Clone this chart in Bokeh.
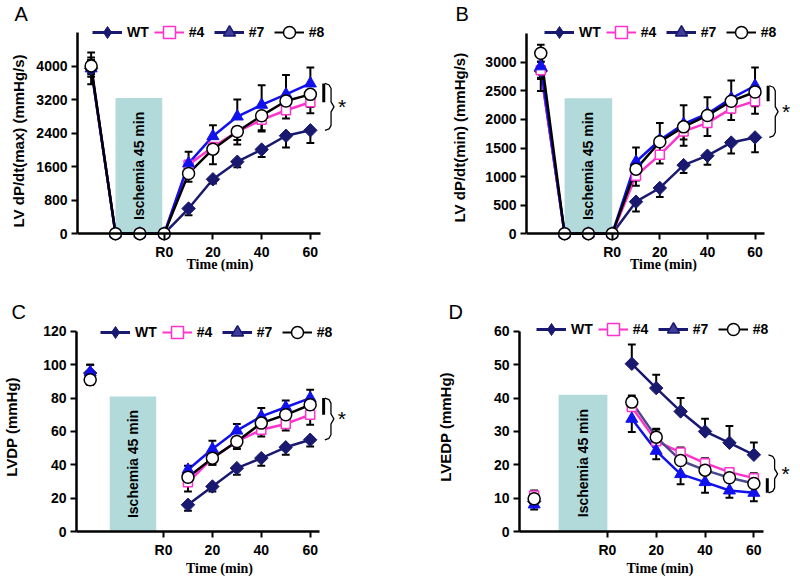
import numpy as np
from bokeh.plotting import figure
from bokeh.layouts import column, row
from bokeh.models import FixedTicker, Legend, LegendItem, Label, Range1d, Title
from bokeh.core.properties import value
from bokeh.embed import file_html
from bokeh.resources import INLINE

series = ["WT", "#4", "#7", "#8"]

# ---------------- Panel A : LV dP/dt(max) ----------------
a_time = [-30, -20, -10, 0, 10, 20, 30, 40, 50, 60]
a_wt = [3950, 0, 0, 0, 600, 1300, 1720, 2010, 2340, 2470]
a_n4 = [4000, 0, 0, 0, 1650, 2070, 2440, 2720, 2950, 3140]
a_n7 = [3950, 0, 0, 0, 1680, 2330, 2800, 3080, 3330, 3590]
a_n8 = [4010, 0, 0, 0, 1440, 2020, 2440, 2820, 3170, 3330]
a_wt_err = [200, 0, 0, 0, 160, 100, 130, 180, 280, 300]
a_n4_err = [150, 0, 0, 0, 150, 150, 200, 250, 200, 260]
a_n7_err = [380, 0, 0, 0, 280, 260, 410, 470, 460, 380]
a_n8_err = [200, 0, 0, 0, 200, 360, 310, 380, 250, 300]
a_yticks = [0, 800, 1600, 2400, 3200, 4000]
a_ymax = 4800

# ---------------- Panel B : LV dP/dt(min) ----------------
b_time = [-30, -20, -10, 0, 10, 20, 30, 40, 50, 60]
b_wt = [2850, 0, 0, 0, 560, 800, 1200, 1365, 1595, 1685]
b_n4 = [2860, 0, 0, 0, 1015, 1380, 1790, 1940, 2190, 2320]
b_n7 = [2930, 0, 0, 0, 1260, 1640, 1920, 2100, 2370, 2590]
b_n8 = [3160, 0, 0, 0, 1130, 1610, 1870, 2070, 2320, 2480]
b_wt_err = [350, 0, 0, 0, 170, 160, 140, 160, 190, 260]
b_n4_err = [150, 0, 0, 0, 175, 150, 250, 230, 200, 220]
b_n7_err = [200, 0, 0, 0, 250, 300, 330, 290, 310, 320]
b_n8_err = [150, 0, 0, 0, 200, 200, 220, 200, 200, 250]
b_yticks = [0, 500, 1000, 1500, 2000, 2500, 3000]
b_ymax = 3500

# ---------------- Panel C : LVDP ----------------
c_time = [-30, 10, 20, 30, 40, 50, 60]
c_wt = [95, 16, 27, 38, 44, 50.5, 55]
c_n4 = [91, 29.5, 44, 54, 61, 64.5, 70]
c_n7 = [95.5, 37, 49.5, 60.5, 69, 74.5, 80]
c_n8 = [91, 32.5, 44, 54, 65, 70, 76]
c_wt_err = [5, 3.5, 3, 4, 4.5, 4.5, 4]
c_n4_err = [3, 5.5, 4, 4.5, 4, 4, 6]
c_n7_err = [4.5, 2.5, 5, 4, 5, 4, 5]
c_n8_err = [3, 4, 4, 4, 4, 4, 4]
c_yticks = [0, 20, 40, 60, 80, 100, 120]
c_ymax = 120

# ---------------- Panel D : LVEDP ----------------
d_time = [-30, 10, 20, 30, 40, 50, 60]
d_wt = [9, 50.3, 43, 36, 30, 26.6, 23]
d_n4 = [10.8, 37.3, 27.1, 23.7, 20.5, 17.8, 16]
d_n7 = [8.1, 33.8, 24.2, 17.2, 14.8, 12.3, 11.6]
d_n8 = [9.8, 38.8, 28.3, 21.3, 18.4, 16.1, 14.4]
d_wt_err = [1.5, 5.8, 4, 4, 3.8, 5, 3.7]
d_n4_err = [1.5, 3, 3.5, 1.5, 1.5, 1.2, 1.5]
d_n7_err = [1.5, 4, 2.5, 3, 3.2, 2.2, 2.5]
d_n8_err = [1.5, 2, 2.5, 1.5, 1.5, 1.2, 1.5]
d_yticks = [0, 10, 20, 30, 40, 50, 60]
d_ymax = 60

# ischemia boxes (start, end in min; top in y units) for A, B, C, D
isch_start = [-20, -20, -22, -20]
isch_end = [-0.8, 0, -3, 0]
isch_top = [3240, 2370, 81, 41]
isch_text = "Ischemia 45 min"

x_ticks = [0, 20, 40, 60]
x_tick_labels = {0: "R0"}
x_label = "Time (min)"

NAVY = "#191970"
MAG = "#FF33CC"
BLUE = "#1111EE"
SLATE = "#3E3E9A"
BOX = "#B2DADB"
FONT = "Liberation Sans"
SERIF = "Liberation Serif"


def style_tick_axis(ax):
    ax.axis_line_width = 2.5
    ax.axis_line_color = "black"
    ax.major_tick_line_width = 2
    ax.major_tick_line_color = "black"
    ax.major_tick_in = 0
    ax.major_tick_out = 6
    ax.minor_tick_line_color = None
    ax.major_label_text_font = FONT
    ax.major_label_text_font_style = "bold"
    ax.major_label_text_font_size = "14px"
    ax.major_label_text_color = "black"
    ax.major_label_standoff = 4
    ax.axis_label_text_color = "black"


def make_panel(letter, ylabel, t, vals, errs, dirs, connect, yticks, ymax,
               isch_i, width, height, mb_l, mb_r, mb_t, mb_b, xleft, xpx,
               ypx, eps, ylab, leg_dx, leg_cy, letter_dx, n8_line):
    fw = width - mb_l - mb_r
    fh = height - mb_t - mb_b
    y0 = -eps / ypx
    p = figure(width=width, height=height, output_backend="svg",
               toolbar_location=None,
               x_range=Range1d(xleft, xleft + fw / xpx),
               y_range=Range1d(y0, y0 + fh / ypx),
               min_border_left=mb_l, min_border_right=mb_r,
               min_border_top=mb_t, min_border_bottom=mb_b)
    p.outline_line_color = None
    p.xgrid.grid_line_color = None
    p.ygrid.grid_line_color = None
    p.background_fill_color = "white"

    # panel letter as title
    p.title.text = letter
    p.title.align = "left"
    p.title.offset = letter_dx
    p.title.standoff = 0
    p.title.text_font = FONT
    p.title.text_font_style = "normal"
    p.title.text_font_size = "20px"
    p.title.text_color = "black"

    xa = p.xaxis[0]
    ya = p.yaxis[0]
    style_tick_axis(xa)
    style_tick_axis(ya)
    xa.ticker = FixedTicker(ticks=x_ticks)
    xa.major_label_overrides = x_tick_labels
    xa.bounds = (xleft, 64)
    ya.ticker = FixedTicker(ticks=yticks)
    ya.bounds = (0, ymax)

    if eps > 0:
        # x axis drawn at y = 0 (frame extends below it, so markers on 0,
        # tick labels and the axis title stay visible)
        xa.fixed_location = 0
        p.add_layout(Label(x=xleft + fw / xpx / 2, y=-ylab["time_dy"] / ypx,
                           text=x_label, text_font=SERIF,
                           text_font_style="bold", text_font_size="14px",
                           text_align="center", text_baseline="middle",
                           text_color="black"))
        p.add_layout(Title(text=ylabel, align="left", offset=ylab["offset"],
                           standoff=ylab["standoff"], vertical_align="bottom",
                           text_font=FONT, text_font_style="bold",
                           text_font_size="15px", text_color="black"), "left")
    else:
        xa.axis_label = x_label
        xa.axis_label_text_font = SERIF
        xa.axis_label_text_font_style = "bold"
        xa.axis_label_text_font_size = "14px"
        xa.axis_label_standoff = 0
        ya.axis_label = ylabel
        ya.axis_label_text_font = FONT
        ya.axis_label_text_font_style = "bold"
        ya.axis_label_text_font_size = "15px"
        ya.axis_label_standoff = ylab["standoff"]

    # ischemia box
    p.quad(left=[isch_start[isch_i]], right=[isch_end[isch_i]], bottom=[0],
           top=[isch_top[isch_i]], fill_color=BOX, line_color=None)
    p.text(x=[(isch_start[isch_i] + isch_end[isch_i]) / 2],
           y=[isch_top[isch_i] / 2], text=[isch_text], angle=np.pi / 2,
           text_align="center", text_baseline="middle",
           text_font=value(FONT), text_font_style="bold",
           text_font_size="14px", text_color="black")

    line_col = {"WT": NAVY, "#4": MAG, "#7": BLUE, "#8": n8_line}
    for s in series:
        xs = t if connect else t[1:]
        ys = vals[s] if connect else vals[s][1:]
        p.line(xs, ys, line_color=line_col[s], line_width=2.5)

    # error bars
    cap = 1.6
    bx0, by0, bx1, by1 = [], [], [], []
    for s in series:
        for i, (tt, v, e) in enumerate(zip(t, vals[s], errs[s])):
            if e == 0:
                continue
            d = "both" if i == 0 else dirs[s]
            lo = v - e if d in ("down", "both") else v
            hi = v + e if d in ("up", "both") else v
            bx0.append(tt); by0.append(lo); bx1.append(tt); by1.append(hi)
            for yy in ([lo] if lo < v else []) + ([hi] if hi > v else []):
                bx0.append(tt - cap); by0.append(yy)
                bx1.append(tt + cap); by1.append(yy)
    p.segment(bx0, by0, bx1, by1, line_color="black", line_width=2)

    # markers
    p.scatter(t, vals["WT"], marker="square", angle=np.pi / 4, size=9.5,
              fill_color=NAVY, line_color=NAVY)
    p.scatter(t, vals["#4"], marker="square", size=9, fill_color="white",
              line_color=MAG, line_width=1.5)
    p.scatter(t, vals["#7"], marker="triangle", size=12, fill_color=BLUE,
              line_color=BLUE)
    p.scatter(t, vals["#8"], marker="circle", size=12, fill_color="white",
              line_color="black", line_width=1.5)

    # significance bracket
    ends = [vals[s][-1] for s in series]
    grp = ends[1:]
    t_end = t[-1]
    p.line([t_end + 5.5, t_end + 5.5], [min(grp), max(grp)],
           line_color="black", line_width=3)
    top, bot = max(ends), min(ends)
    mid = (top + bot) / 2
    dy = 0.025 * ymax
    bx = t_end + 8.5
    p.line([bx - 2.5, bx - 0.8, bx, bx, bx + 1.2, bx, bx, bx - 0.8, bx - 2.5],
           [top, top - 0.3 * dy, top - dy, mid + dy, mid, mid - dy, bot + dy,
            bot + 0.3 * dy, bot],
           line_color="black", line_width=1.3)
    p.add_layout(Label(x=bx + 4.5, y=mid, text="*", text_font=FONT,
                       text_font_size="21px", text_align="center",
                       text_baseline="alphabetic", y_offset=0,
                       text_color="black"))

    # legend (dummy renderers carry legend-only styling)
    leg_specs = [
        ("WT", NAVY, 3, dict(marker="diamond", fill_color=NAVY, line_color=NAVY)),
        ("#4", MAG, 2, dict(marker="square", fill_color="white", line_color=MAG, line_width=1.5)),
        ("#7", NAVY, 3, dict(marker="triangle", fill_color=SLATE, line_color=NAVY, line_width=1.5)),
        ("#8", "black", 2, dict(marker="circle", fill_color="white", line_color="black", line_width=1.5)),
    ]
    items = []
    for lab, lc, lw, mk in leg_specs:
        lr = p.line(x=[np.nan], y=[np.nan], line_color=lc, line_width=lw)
        sr = p.scatter(x=[np.nan], y=[np.nan], **mk)
        items.append(LegendItem(label=lab, renderers=[lr, sr]))
    gh = 30
    leg = Legend(items=items, orientation="horizontal",
                 location=(leg_dx, eps + leg_cy - gh / 2),
                 padding=0, margin=0, spacing=5, label_standoff=5,
                 glyph_width=30, glyph_height=gh, border_line_alpha=0,
                 background_fill_alpha=0, label_text_font=FONT,
                 label_text_font_style="bold", label_text_font_size="14px",
                 label_text_color="black")
    p.add_layout(leg)
    return p


down3 = {"WT": "down", "#4": "down", "#7": "up", "#8": "down"}
downD = {"WT": "up", "#4": "up", "#7": "down", "#8": "up"}

pA = make_panel("A", "LV dP/dt(max) (mmHg/s)", a_time,
                {"WT": a_wt, "#4": a_n4, "#7": a_n7, "#8": a_n8},
                {"WT": a_wt_err, "#4": a_n4_err, "#7": a_n7_err, "#8": a_n8_err},
                down3, True, a_yticks, a_ymax, 0,
                433, 298, 73, 71, 23, 27, -35.6, 2.47, 168 / 4000, 38,
                dict(offset=44, standoff=14, time_dy=31), 15, 201, -63, "black")
pB = make_panel("B", "LV dP/dt(min) (mmHg/s)", b_time,
                {"WT": b_wt, "#4": b_n4, "#7": b_n7, "#8": b_n8},
                {"WT": b_wt_err, "#4": b_n4_err, "#7": b_n7_err, "#8": b_n8_err},
                down3, True, b_yticks, b_ymax, 1,
                367, 298, 85, 0, 23, 27, -36, 2.45, 172 / 3000, 38,
                dict(offset=49, standoff=30, time_dy=31), 18, 201, -71, "black")
pC = make_panel("C", "LVDP (mmHg)", c_time,
                {"WT": c_wt, "#4": c_n4, "#7": c_n7, "#8": c_n8},
                {"WT": c_wt_err, "#4": c_n4_err, "#7": c_n7_err, "#8": c_n8_err},
                down3, False, c_yticks, c_ymax, 2,
                433, 280, 73, 71, 23, 46, -35.6, 2.47, 202 / 120, 0,
                dict(standoff=20), 24, 199, -65, "black")
pD = make_panel("D", "LVEDP (mmHg)", d_time,
                {"WT": d_wt, "#4": d_n4, "#7": d_n7, "#8": d_n8},
                {"WT": d_wt_err, "#4": d_n4_err, "#7": d_n7_err, "#8": d_n8_err},
                downD, False, d_yticks, d_ymax, 3,
                367, 280, 85, 0, 23, 46, -36, 2.45, 202 / 60, 0,
                dict(standoff=37), 17, 202, -71, "#4A4A8C")

layout = column(row(pA, pB), row(pC, pD))
open("out.html", "w").write(file_html(layout, INLINE))
